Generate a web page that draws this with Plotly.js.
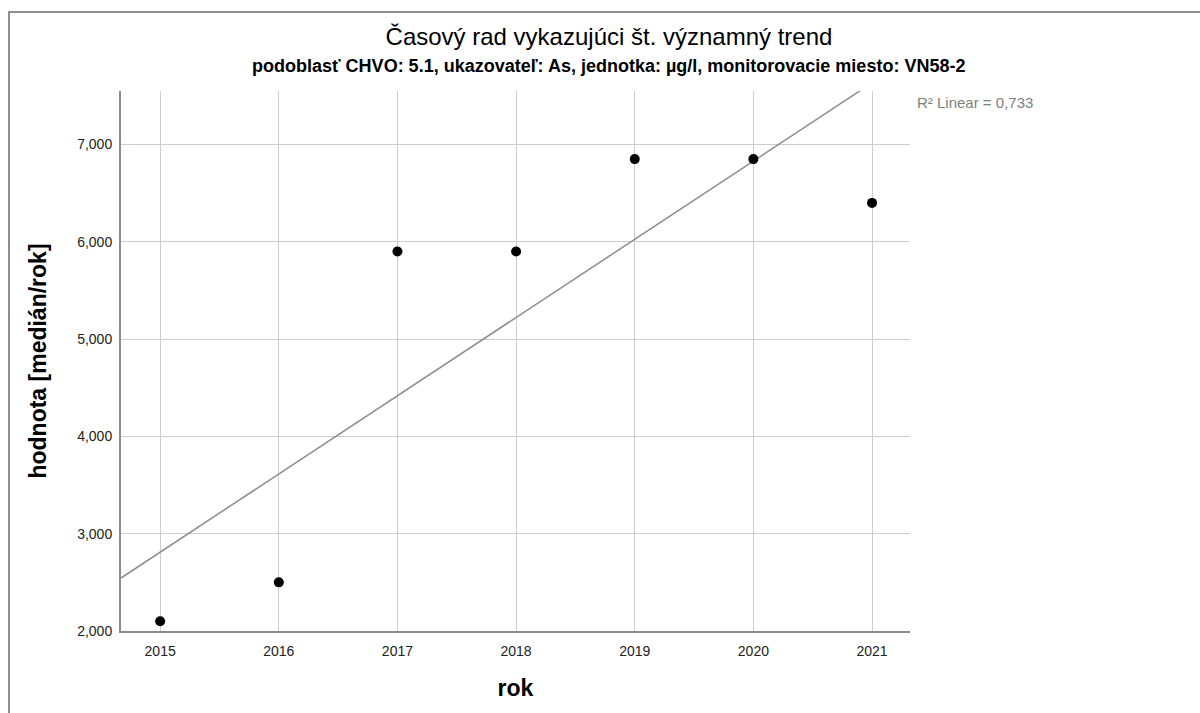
<!DOCTYPE html>
<html>
<head>
<meta charset="utf-8">
<script src="https://cdn.plot.ly/plotly-3.0.1.min.js"></script>
<style>
  html, body { margin: 0; padding: 0; background: #ffffff; }
  #wrap { position: relative; width: 1200px; height: 713px; overflow: hidden; }
  #chart { position: absolute; left: 0; top: 0; width: 1200px; height: 713px; }
  #frame { position: absolute; left: 8px; top: 11px; right: -4px; bottom: -4px;
           border-left: 2px solid #8f8f8f; border-top: 2px solid #8f8f8f; pointer-events: none; }
</style>
</head>
<body>
<div id="wrap">
  <div id="chart"></div>
  <div id="frame"></div>
</div>
<script>
// ---- data ----
const years = [2015, 2016, 2017, 2018, 2019, 2020, 2021];
const medians = [2100, 2500, 5900, 5900, 6850, 6850, 6400];
const xTickVals = [2015, 2016, 2017, 2018, 2019, 2020, 2021];
const yTickVals = [2000, 3000, 4000, 5000, 6000, 7000];
// linear trend as drawn in the picture (value at 2015 and slope per year)
const trendAt2015 = 2810;
const trendSlope = 804;
const r2Label = 'R² Linear = 0,733';
const titleText = 'Časový rad vykazujúci št. významný trend';
const subtitleText = 'podoblasť CHVO: 5.1, ukazovateľ: As, jednotka: µg/l, monitorovacie miesto: VN58-2';
const xTitle = 'rok';
const yTitle = 'hodnota [medián/rok]';
const xRange = [2014.67, 2021.32];
const yRange = [2000, 7550];

const trendX = [xRange[0], xRange[1]];
const trendY = trendX.map(x => trendAt2015 + trendSlope * (x - 2015));

const FONT = 'Liberation Sans, Arial, Helvetica, sans-serif';

const traces = [
  {
    x: trendX, y: trendY, type: 'scatter', mode: 'lines',
    line: { color: '#8c8c8c', width: 1.5 }, hoverinfo: 'skip', showlegend: false
  },
  {
    x: years, y: medians, type: 'scatter', mode: 'markers',
    marker: { color: '#000000', size: 10, line: { width: 0 } }, showlegend: false
  }
];

const layout = {
  width: 1200, height: 713,
  margin: { l: 121, r: 290, t: 91, b: 82 },
  paper_bgcolor: '#ffffff', plot_bgcolor: '#ffffff',
  font: { family: FONT, color: '#222222' },
  showlegend: false,
  title: {
    text: titleText, xref: 'paper', x: 0.6185, xanchor: 'center',
    yref: 'container', y: 0.948, yanchor: 'middle',
    font: { family: FONT, size: 24, color: '#000000' }
  },
  xaxis: {
    range: xRange, tickmode: 'array', tickvals: xTickVals, ticktext: xTickVals.map(String),
    showgrid: true, gridcolor: '#cccccc', gridwidth: 1, zeroline: false,
    showline: true, linecolor: '#8c8c8c', linewidth: 2,
    ticks: '', ticklabelstandoff: 6,
    tickfont: { family: FONT, size: 14, color: '#222222' },
    title: { text: xTitle, standoff: 22, font: { family: FONT, size: 23, color: '#000000', weight: 'bold' } }
  },
  yaxis: {
    range: yRange, tickmode: 'array', tickvals: yTickVals, tickformat: ',',
    showgrid: true, gridcolor: '#cccccc', gridwidth: 1, zeroline: false,
    showline: true, linecolor: '#8c8c8c', linewidth: 2,
    ticks: '', ticklabelstandoff: 4,
    tickfont: { family: FONT, size: 14, color: '#222222' },
    title: { text: yTitle, standoff: 24, font: { family: FONT, size: 23, color: '#000000', weight: 'bold' } }
  },
  annotations: [
    {
      text: subtitleText, xref: 'paper', x: 0.6185, xanchor: 'center',
      yref: 'paper', y: 1.0, yanchor: 'bottom', yshift: 13, showarrow: false,
      font: { family: FONT, size: 18, color: '#000000', weight: 'bold' }
    },
    {
      text: r2Label, xref: 'paper', x: 1.006, xanchor: 'left',
      yref: 'paper', y: 0.978, yanchor: 'middle', showarrow: false,
      font: { family: FONT, size: 15, color: '#808080' }
    }
  ]
};

Plotly.newPlot('chart', traces, layout, { staticPlot: true, displayModeBar: false });
</script>
</body>
</html>
